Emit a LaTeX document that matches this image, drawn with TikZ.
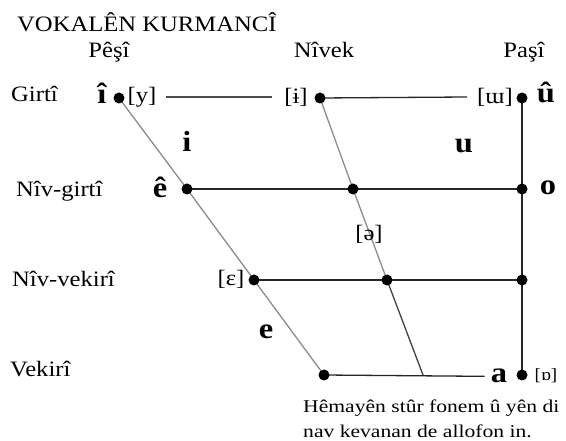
\documentclass[tikz,border=0pt]{standalone}
\usepackage{fontspec}
\setmainfont{Liberation Serif}[FakeStretch=1.12]
\newfontfamily\capfont{Liberation Serif}[FakeStretch=1.2]
\usetikzlibrary{backgrounds}
\begin{document}
\begin{tikzpicture}[x=1pt,y=-1pt,
  dot/.style={circle,fill=black,inner sep=0pt,minimum size=11pt},
  lbl/.style={inner sep=0pt,font=\fontsize{22}{24}\selectfont},
  ipa/.style={inner sep=0pt,font=\fontsize{22}{24}\selectfont},
  vow/.style={inner sep=0pt,font=\fontsize{29}{32}\selectfont\bfseries},
  captext/.style={inner sep=0pt,anchor=base west,font=\capfont\fontsize{18}{24}\selectfont},
  ln/.style={line width=1.3pt,black!85},
  gl/.style={line width=1.3pt,black!45}]
\useasboundingbox (0,0) rectangle (566,441);
% title and column heads
\node[inner sep=0pt,anchor=base west,font=\fontsize{22}{24}\selectfont] (title) at (17,32) {VOKALÊN KURMANCÎ};
\node[lbl,anchor=base] (pesi) at (109,58) {Pêşî};
\node[lbl,anchor=base] (nivek) at (324,58) {Nîvek};
\node[lbl,anchor=base] (pasi) at (524,58) {Paşî};
% row heads
\node[lbl,anchor=base west] (girti) at (11,102) {Girtî};
\node[lbl,anchor=base west] (nivgirti) at (16,197) {Nîv-girtî};
\node[lbl,anchor=base west] (nivvekiri) at (12,287) {Nîv-vekirî};
\node[lbl,anchor=base west] (vekiri) at (10,377) {Vekirî};
% dots
\node[dot] (dI) at (119,98) {};
\node[dot] (dIb) at (320,98) {};
\node[dot] (dU) at (522,98) {};
\node[dot] (dE) at (187,189) {};
\node[dot] (dMid) at (353,189) {};
\node[dot] (dO) at (522,189) {};
\node[dot] (dEps) at (254,280) {};
\node[dot] (dLow) at (387,280) {};
\node[dot] (dR) at (522,280) {};
\node[dot] (dBot) at (324,375) {};
\node[dot] (dA) at (522,375) {};
\coordinate (cEnd) at (423,375);
% bold vowels
\node[vow,anchor=base] (vI) at (102,104) {î};
\node[vow,anchor=base] (vU) at (546,103) {û};
\node[vow,anchor=base] (vi) at (187,152) {i};
\node[vow,anchor=base] (vu) at (464,153) {u};
\node[vow,anchor=base] (vE) at (160,198) {ê};
\node[vow,anchor=base] (vo) at (548,195) {o};
\node[vow,anchor=base] (ve) at (266,338) {e};
\node[vow,anchor=base] (va) at (499,383) {a};
% IPA
\node[ipa] (iy) at (142,97) {[y]};
\node[ipa] (iib) at (296,97) {[ɨ]};
\node[ipa] (iuu) at (495,97) {[ɯ]};
\node[ipa] (ieps) at (231,279) {[ɛ]};
\node[ipa] (ischwa) at (369,234) {[ə]};
\node[ipa,font=\fontsize{17}{20}\selectfont] (iopen) at (546,376) {[ɒ]};
% caption
\node[captext] (cap1) at (303,413) {Hêmayên stûr fonem û yên di};
\node[captext] (cap2) at (303,437) {nav kevanan de allofon in.};
% lines
\begin{scope}[on background layer]
\draw[ln,black!70] ([xshift=9pt]iy.east) -- ([xshift=-12pt]iib.west);
\draw[ln] (dIb.center) -- ([xshift=-10pt]iuu.west);
\draw[ln] (dU.center) -- (dA.center);
\draw[ln] (dE.center) -- (dMid.center) -- (dO.center);
\draw[ln] (dEps.center) -- (dLow.center) -- (dR.center);
\draw[ln] (dBot.center) -- ([xshift=-6pt]va.west);
\draw[gl] (dI.center) -- (dE.center) -- (dEps.center) -- (dBot.center);
\draw[gl] (dIb.center) -- (dMid.center) -- (dLow.center);
\draw[ln,black!75] (dLow.center) -- (cEnd);
\end{scope}
\end{tikzpicture}
\end{document}
